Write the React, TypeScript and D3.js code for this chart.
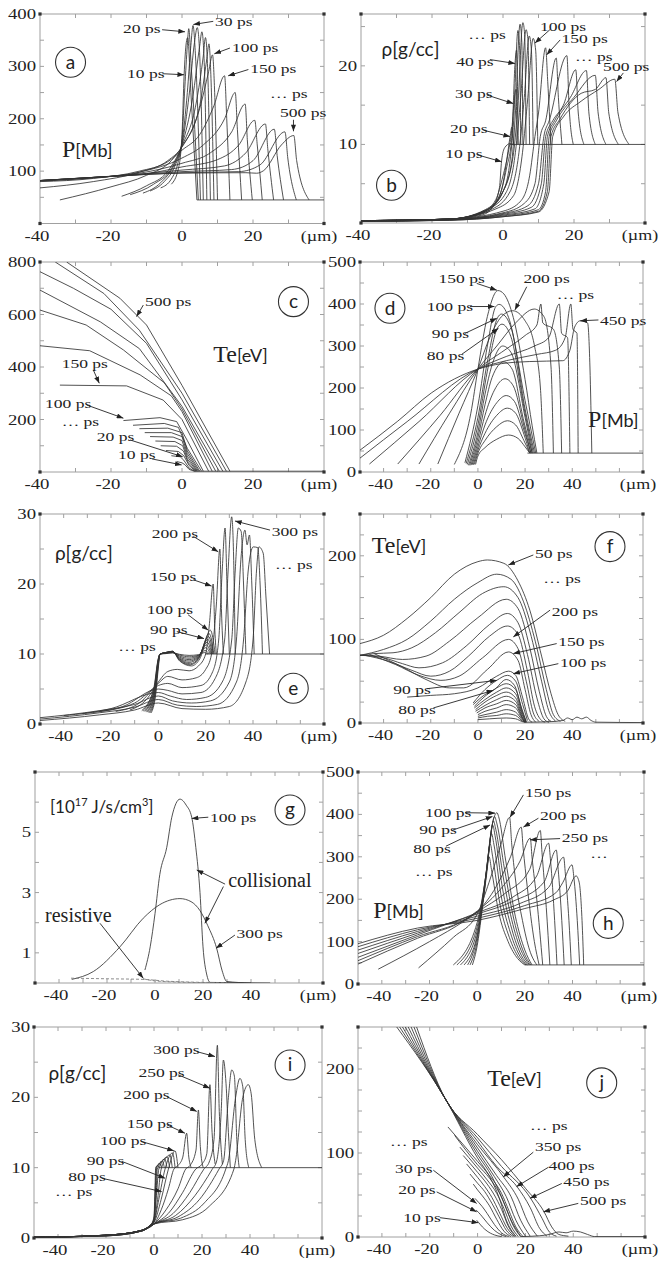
import React from "react";
import * as d3 from "d3";

type Pt = [number, number];
type Note = { t: string; x: number; y: number; ax?: number; ay?: number; bx?: number; by?: number; big?: boolean };

const SERIF = "'Liberation Serif', 'Times New Roman', serif";
const SANS = "Lato, 'Noto Sans', sans-serif";
const INK = "#222";
const FRAME = "#a0a0a0";

// ---------- (a) pressure, P[Mb]
const A_CURVES: Pt[][] = [
  [[-3, 75], [-1, 105], [0, 170], [0.6, 284], [1.2, 345], [1.6, 355], [2.5, 250], [4.2, 45]],
  [[-6, 68], [-3, 85], [-1, 120], [0, 160], [0.8, 260], [1.5, 340], [1.9, 372], [2.6, 300], [4.6, 45]],
  [[-9, 62], [-5, 80], [-2, 110], [0, 155], [1.5, 250], [2.5, 340], [3.1, 378], [3.8, 320], [5.2, 45]],
  [[-11, 58], [-6, 78], [-2, 115], [0, 152], [2, 245], [3.5, 345], [4.3, 374], [5, 320], [6, 45]],
  [[-14.6, 55], [-8, 75], [-3, 105], [0, 150], [3, 240], [5, 340], [5.6, 366], [6.3, 300], [7, 45]],
  [[-17, 52], [-10, 72], [-4, 100], [0, 148], [4, 230], [6, 320], [6.6, 355], [7.3, 280], [8, 45]],
  [[-34.4, 45], [-20, 70], [-10, 92], [-3, 120], [0, 147], [5, 225], [7, 315], [7.6, 343], [8.2, 270], [9, 45]],
  [[-40, 68], [-25, 80], [-12, 98], [-4, 120], [0, 146], [5, 220], [7.5, 290], [8.6, 322], [9.2, 250], [10, 45]],
  [[-40, 80], [-25, 86], [-12, 100], [-4, 118], [0, 140], [5, 170], [9, 225], [12, 282], [12.6, 200], [13.5, 45]],
  [[-40, 81], [-25, 87], [-12, 98], [0, 125], [6, 150], [12, 200], [15, 250], [15.6, 180], [16.8, 45]],
  [[-40, 82], [-25, 88], [-12, 96], [0, 115], [8, 135], [14, 175], [17.8, 228], [18.4, 160], [19.8, 45]],
  [[-40, 82], [-25, 88], [-10, 95], [0, 108], [10, 122], [16, 150], [20.5, 197], [21.2, 150], [22.6, 45]],
  [[-40, 82], [-20, 90], [0, 102], [12, 110], [18, 135], [23.5, 190], [24.2, 140], [25.8, 45]],
  [[-40, 82], [-20, 90], [0, 99], [14, 103], [20, 120], [26, 180], [26.8, 130], [28.6, 45]],
  [[-40, 82], [-20, 90], [0, 97], [16, 99], [22, 112], [29, 175], [29.8, 125], [32.2, 45]],
  [[-40, 82], [-20, 90], [0, 96], [18, 97], [21, 96], [23, 101], [28, 150], [31.5, 168], [32.3, 120], [35.8, 45]],
];
const A_BASE: Pt[] = [[4.2, 45], [40, 45]];
const A_NOTES: Note[] = [
  { t: "20 ps", x: -16.6, y: 364, ax: -5.6, ay: 370, bx: 0.85, by: 366 },
  { t: "30 ps", x: 9.3, y: 378, ax: 8.8, ay: 386, bx: 3.2, by: 380 },
  { t: "10 ps", x: -15.5, y: 278, ax: -5.5, ay: 286, bx: 0.6, by: 284 },
  { t: "100 ps", x: 14.1, y: 328, ax: 13.5, ay: 335, bx: 9.1, by: 324 },
  { t: "150 ps", x: 19.2, y: 288, ax: 18.7, ay: 294, bx: 13, by: 282 },
  { t: "… ps", x: 24.8, y: 240 },
  { t: "500 ps", x: 27.6, y: 204, ax: 31.4, ay: 198, bx: 31.4, by: 176 },
];

// ---------- (b) density
const B_CURVES: Pt[][] = [
  [[-40, 0.3], [-15, 0.5], [-6, 1], [-3, 2], [-1, 4.5], [-0.4, 7.9], [0.5, 9.6], [2, 10.1], [3, 10]],
  [[-40, 0.3], [-15, 0.5], [-6, 1.2], [-2, 2.5], [0, 5], [1.2, 8.5], [2, 11], [2.5, 12.2], [3, 10]],
  [[-40, 0.3], [-15, 0.5], [-6, 1.3], [-2, 3], [0, 6], [1.5, 9], [2.5, 12], [3.1, 15.3], [3.6, 17], [4, 10]],
  [[-40, 0.3], [-15, 0.5], [-5, 1.5], [-1, 3.5], [1, 7], [2.5, 11], [3.4, 20.4], [3.8, 22], [4.3, 10]],
  [[-40, 0.3], [-15, 0.5], [-5, 1.6], [0, 4], [2, 8], [3, 13], [4.2, 24.5], [4.7, 22], [5, 10]],
  [[-40, 0.3], [-15, 0.5], [-5, 1.7], [0, 4], [2.5, 8], [3.5, 14], [4.8, 25.3], [5.3, 23], [5.6, 10]],
  [[-40, 0.3], [-15, 0.5], [-4, 1.8], [0, 4], [3, 9], [4.2, 15], [5.6, 25.5], [6.1, 24], [6.5, 10]],
  [[-40, 0.3], [-15, 0.5], [-4, 1.8], [1, 4], [3.5, 9], [5, 16], [6.5, 24.6], [7, 23.5], [7.5, 10]],
  [[-40, 0.3], [-15, 0.5], [-3, 1.8], [2, 4], [4.5, 9], [6, 16], [7.4, 23.8], [8, 22], [8.5, 10]],
  [[-40, 0.3], [-15, 0.5], [-2, 1.8], [3, 3.5], [5.5, 9], [7, 16], [8.5, 23.5], [9.2, 22], [9.8, 10]],
  [[-40, 0.3], [-15, 0.5], [0, 1.5], [5, 2.8], [7.5, 6], [9, 11], [10, 14], [12, 22.3], [12.6, 18], [13.5, 10]],
  [[-40, 0.25], [-15, 0.45], [0, 1.3], [6, 2.5], [9, 5], [10.5, 11], [12, 13], [15, 21], [15.6, 16], [16.6, 10]],
  [[-40, 0.25], [-15, 0.45], [0, 1.2], [7, 2.2], [10, 5], [11.5, 11], [13, 13], [18, 21.3], [18.6, 15], [19.8, 10]],
  [[-40, 0.25], [-15, 0.4], [0, 1.1], [8, 2], [10.8, 5], [12, 11], [14, 13], [17, 15], [20.5, 19.5], [21.2, 14], [22.8, 10]],
  [[-40, 0.25], [-15, 0.4], [0, 1], [9, 1.8], [11.5, 5], [12.5, 11], [14.5, 13], [19, 16], [23.5, 19.4], [24.2, 14], [26, 10]],
  [[-40, 0.2], [-15, 0.4], [0, 0.9], [10, 1.7], [12, 4], [13, 11], [15, 13], [20, 16], [26, 18.8], [26.8, 14], [29, 10]],
  [[-40, 0.2], [-15, 0.35], [0, 0.8], [10, 1.5], [12.5, 4], [13.5, 11], [16, 13.2], [22, 16.5], [26, 17], [29, 18.5], [29.8, 14], [32.5, 10]],
  [[-40, 0.2], [-15, 0.35], [0, 0.8], [10, 1.4], [13, 4], [14, 11], [17, 13.5], [22, 15.5], [27, 17], [31.5, 18.3], [32.4, 14], [35.5, 10]],
];
const B_BASE: Pt[] = [[2, 10], [40, 10]];
const B_NOTES: Note[] = [
  { t: "100 ps", x: 10.4, y: 24.5, ax: 13.2, ay: 24.6, bx: 9, by: 22.9 },
  { t: "150 ps", x: 16.5, y: 22.9, ax: 16.1, ay: 23.3, bx: 12.3, by: 21.4 },
  { t: "… ps", x: -9.8, y: 23.4 },
  { t: "40 ps", x: -13.2, y: 20, ax: -3.7, ay: 20.8, bx: 3.4, by: 20.3 },
  { t: "30 ps", x: -13.5, y: 15.9, ax: -4.6, ay: 16.3, bx: 2.9, by: 15.2 },
  { t: "20 ps", x: -14.9, y: 11.5, ax: -5.5, ay: 11.8, bx: 2, by: 11 },
  { t: "10 ps", x: -16.3, y: 8.3, ax: -7.4, ay: 8.7, bx: -0.4, by: 7.8 },
  { t: "… ps", x: 20.3, y: 20.6 },
  { t: "500 ps", x: 28.2, y: 19.4, ax: 33.9, ay: 19.1, bx: 32, by: 18 },
];

// ---------- (c) electron temperature
const C_CURVES: Pt[][] = [
  [[-32.5, 800], [-17.5, 662], [-10, 560], [0, 330], [13.5, 3]],
  [[-35.7, 800], [-22, 680], [-12, 540], [0, 300], [12.5, 3]],
  [[-40, 763], [-30.6, 700], [-20, 620], [-10, 490], [0, 275], [11.5, 3]],
  [[-40, 693], [-23, 572], [-12, 470], [0, 250], [10.5, 3]],
  [[-40, 617], [-27, 560], [-16.5, 465], [-5, 340], [0, 240], [9.5, 3]],
  [[-40, 481], [-26, 462], [-11.8, 370], [-3, 290], [0, 230], [8.5, 3]],
  [[-34.4, 331], [-15.6, 328], [-5.3, 274], [0, 200], [7.5, 3]],
  [[-16.5, 196], [-6.2, 207], [-1.5, 192], [1.5, 120], [6, 3]],
  [[-13.8, 178], [-5, 185], [-1, 170], [1.5, 90], [5.5, 3]],
  [[-12, 165], [-4, 167], [0, 150], [1.5, 80], [5, 3]],
  [[-10.5, 150], [-3, 150], [0, 135], [1.5, 70], [4.7, 3]],
  [[-9, 135], [-2.5, 133], [0, 120], [1.5, 60], [4.4, 3]],
  [[-7.5, 118], [-2, 116], [0.2, 100], [1.5, 50], [4.2, 3]],
  [[-6, 100], [-1.5, 98], [0.4, 80], [1.8, 35], [4, 3]],
  [[-4.5, 82], [-1, 78], [0.5, 62], [2, 25], [3.8, 3]],
  [[-3, 62], [-0.5, 58], [0.5, 45], [2, 15], [3.6, 3]],
  [[-1.5, 40], [0, 35], [0.8, 28], [2, 10], [3.4, 3]],
];
const C_BASE: Pt[] = [[3.4, 3], [40, 3]];
const C_NOTES: Note[] = [
  { t: "500 ps", x: -10.4, y: 632, ax: -10.9, ay: 636, bx: -12.8, by: 592 },
  { t: "150 ps", x: -33.9, y: 396, ax: -25, ay: 389, bx: -23.3, by: 338 },
  { t: "100 ps", x: -38.6, y: 244, ax: -26.8, ay: 255, bx: -16.5, by: 205 },
  { t: "… ps", x: -33.9, y: 175 },
  { t: "20 ps", x: -24, y: 118, ax: -14.6, ay: 122, bx: 0.2, by: 58 },
  { t: "10 ps", x: -18, y: 50, ax: -8.5, ay: 50, bx: -0.1, by: 27 },
];

// ---------- (d) pressure, long pulse
const D_CURVES: Pt[][] = [
  [[-1, 18], [0, 38], [3, 58], [8, 78], [13, 88], [17, 80], [20, 60], [22, 45]],
  [[-1.5, 18], [0, 45], [3, 75], [8, 108], [12.5, 122], [16, 112], [19.5, 75], [22, 45]],
  [[-2, 17], [0, 52], [3, 92], [8, 135], [12.5, 152], [16, 140], [19.5, 90], [22, 45]],
  [[-2.5, 17], [0, 60], [3, 112], [8, 165], [12, 182], [15.5, 168], [19.5, 100], [22.5, 45]],
  [[-3, 16], [0, 70], [3, 135], [7, 195], [11.5, 222], [15, 205], [19.5, 110], [22.5, 45]],
  [[-3.5, 16], [0, 82], [3, 160], [6, 225], [11, 262], [14.5, 245], [19.5, 120], [23, 45]],
  [[-4, 16], [0, 95], [3, 185], [6, 255], [10.5, 300], [14, 285], [20, 130], [23, 45]],
  [[-4.5, 18], [0, 112], [4, 240], [8.3, 343], [10.2, 352], [14, 322], [20, 140], [23.5, 45]],
  [[-5, 20], [0, 130], [4, 262], [8.3, 367], [10, 376], [14, 345], [20, 150], [24, 45]],
  [[-5.5, 22], [0, 158], [4, 300], [7.6, 394], [9, 399], [13, 368], [20, 170], [24.5, 45]],
  [[-10, 18], [-3, 140], [0, 245], [4, 370], [8.5, 432], [11, 424], [15, 368], [20, 220], [23, 110], [25, 45]],
  [[-17, 19], [-8, 140], [0, 245], [5, 320], [10, 370], [14.7, 384], [20, 360], [24, 300], [26.5, 200], [27.7, 45]],
  [[-25, 19], [-12, 140], [0, 245], [8, 300], [16, 355], [23.9, 388], [28, 370], [31, 250], [32, 45]],
  [[-34, 19], [-16, 135], [0, 245], [10, 285], [20, 325], [25, 350], [26.7, 400], [27.5, 355], [32, 340], [34.5, 250], [35.5, 45]],
  [[-46, 19], [-25, 120], [0, 245], [12, 275], [24, 300], [30, 320], [34.5, 400], [35.5, 330], [38, 320], [39, 45]],
  [[-50, 33], [-30, 120], [0, 245], [12, 265], [25, 280], [33, 290], [37, 320], [39.4, 400], [40.3, 340], [42, 330], [42.5, 45]],
  [[-50, 52], [-34, 121], [-19.8, 188], [0, 245], [10, 258], [22, 263], [36, 265], [39, 290], [41, 345], [43.4, 360], [46.5, 355], [47.5, 250], [48.3, 45]],
];
const D_BASE: Pt[] = [[21, 45], [70, 45]];
const D_NOTES: Note[] = [
  { t: "150 ps", x: -16.7, y: 450, ax: -0.5, ay: 449, bx: 8, by: 433 },
  { t: "200 ps", x: 19.3, y: 450, ax: 20.7, ay: 441, bx: 15.7, by: 386 },
  { t: "100 ps", x: -21.7, y: 383, ax: -3.4, ay: 394, bx: 7, by: 394 },
  { t: "90 ps", x: -19.6, y: 319, ax: -5.5, ay: 330, bx: 8, by: 366 },
  { t: "80 ps", x: -21.7, y: 267, ax: -6.9, ay: 280, bx: 8.7, by: 342 },
  { t: "… ps", x: 33.4, y: 412 },
  { t: "450 ps", x: 51.8, y: 350, ax: 51.1, ay: 362, bx: 43.4, by: 360 },
];

// ---------- (e) density, long pulse
const E_CURVES: Pt[][] = [
  [[-3, 1.6], [-1.2, 4], [0, 8], [0.7, 10], [3, 10.05], [6, 10.15], [9, 9.95], [13, 9.8], [17, 9.9], [19.5, 10.2], [21, 10]],
  [[-3.5, 1.6], [-1.3, 4.2], [0, 8.4], [0.7, 10], [3, 10.1], [6, 10.2], [9, 9.85], [13, 9.6], [17, 9.85], [19.8, 10.5], [21.5, 10]],
  [[-4, 1.6], [-1.4, 4.4], [0, 8.6], [0.7, 10], [3, 10.1], [6, 10.25], [9, 9.7], [13, 9.4], [17, 9.8], [20, 10.9], [22, 10]],
  [[-4.5, 1.7], [-1.5, 4.5], [0, 8.8], [0.7, 10], [3, 10.15], [6, 10.3], [9, 9.55], [13, 9.2], [17, 9.7], [20.3, 11.3], [22.3, 10]],
  [[-5, 1.7], [-1.6, 4.6], [0, 9], [0.7, 10], [3, 10.15], [6, 10.3], [9, 9.4], [13, 9], [17, 9.6], [20.6, 11.7], [22.6, 10]],
  [[-5.5, 1.8], [-1.7, 4.7], [0, 9.1], [0.7, 10], [3, 10.2], [6, 10.35], [9, 9.3], [13, 8.8], [17, 9.5], [20.9, 12.1], [22.9, 10]],
  [[-6, 1.8], [-1.8, 4.8], [0, 9.2], [0.7, 10], [3, 10.2], [6, 10.35], [9, 9.2], [13.5, 8.6], [17, 9.4], [21.2, 12.5], [23.2, 10]],
  [[-6.5, 1.9], [-1.9, 4.9], [0, 9.3], [0.7, 10], [3, 10.2], [6, 10.4], [9, 9.1], [13.5, 8.45], [17, 9.3], [21.5, 12.9], [23.5, 10]],
  [[-7, 1.9], [-2, 5], [0, 9.4], [0.7, 10], [3, 10.2], [6, 10.4], [9, 9], [14, 8.3], [17.5, 9.3], [22, 13.4], [24, 10]],
  [[-12, 2], [-5, 3.5], [0, 6], [4, 7.5], [8, 7.8], [13, 7.6], [17, 8.3], [20, 10], [21.5, 14], [23.2, 20], [23.8, 14], [24.5, 10]],
  [[-18, 1.8], [-8, 3], [0, 5.8], [4, 6.8], [10, 6.3], [16, 6.6], [20, 7.8], [22.5, 10], [24.5, 17], [26, 25], [26.7, 16], [27.5, 10]],
  [[-25, 1.8], [-10, 3], [0, 5.5], [4, 5.8], [10, 5.2], [18, 5.5], [23, 7.5], [25.5, 12], [27, 22], [28.2, 28], [29, 20], [30, 10]],
  [[-32, 1.5], [-15, 2.5], [0, 5], [4, 4.8], [10, 4.3], [18, 4.5], [24, 6.5], [28, 12], [29.5, 22], [31, 29.6], [31.8, 24], [32.5, 10]],
  [[-40, 1.2], [-20, 2.2], [0, 4.5], [5, 4], [12, 3.5], [20, 3.8], [27, 6], [31, 12], [32.5, 22], [33.8, 28], [35, 27.5], [36, 20], [37, 10]],
  [[-50, 0.9], [-25, 1.9], [-10, 2.8], [0, 4], [6, 3.3], [14, 3], [22, 3.3], [30, 6], [33, 12], [35, 24], [36.6, 27.7], [37.5, 25.6], [38.5, 27], [39.5, 20], [40.5, 10]],
  [[-50, 0.7], [-25, 1.6], [-10, 2.4], [0, 3.5], [8, 2.7], [16, 2.5], [25, 2.8], [33, 6], [36, 12], [38, 22], [40.1, 25.3], [42, 25.2], [43, 20], [44, 10]],
  [[-50, 0.5], [-25, 1.3], [-10, 2], [0, 3], [10, 2.2], [20, 2.1], [30, 2.5], [37, 6], [40, 12], [41.5, 22], [42.5, 25.3], [44.3, 24.4], [45.5, 18], [47, 10]],
];
const E_BASE: Pt[] = [[20, 10], [70, 10]];
const E_NOTES: Note[] = [
  { t: "200 ps", x: -2.8, y: 26.6, ax: 14.8, ay: 26.8, bx: 25.3, by: 24.6 },
  { t: "300 ps", x: 47.9, y: 26.9, ax: 47.2, ay: 27.7, bx: 32.4, by: 29 },
  { t: "150 ps", x: -3.5, y: 20.4, ax: 14.8, ay: 20.6, bx: 22.5, by: 19.7 },
  { t: "100 ps", x: -4.9, y: 15.7, ax: 12.6, ay: 15.6, bx: 21.1, by: 13.4 },
  { t: "90 ps", x: -3.5, y: 12.9, ax: 7.8, ay: 13.2, bx: 19.3, by: 12.2 },
  { t: "… ps", x: -16.9, y: 10.4 },
  { t: "… ps", x: 49.3, y: 22.1 },
];

// ---------- (f) electron temperature, long pulse
const F_CURVES: Pt[][] = [
  [[-50, 95], [-40, 105], [-30, 125], [-20, 150], [-10, 178], [0, 193], [4, 195], [11, 191], [17, 170], [22, 135], [27, 80], [31, 35], [34, 10], [37, 2]],
  [[-50, 81], [-40, 88], [-30, 100], [-20, 122], [-10, 148], [0, 168], [8, 178], [14, 172], [20, 140], [25, 90], [29, 40], [32, 10], [35, 2]],
  [[-50, 81], [-44, 83], [-36, 84], [-28, 90], [-18, 108], [-8, 132], [2, 155], [11, 163], [17, 150], [22, 110], [27, 50], [30, 15], [33, 2]],
  [[-50, 81], [-42, 80], [-32, 76], [-22, 80], [-12, 98], [0, 126], [12, 148], [17, 137], [22, 90], [26, 38], [29, 8], [31, 2]],
  [[-50, 81], [-40, 78], [-32, 71], [-25, 66], [-15, 72], [-5, 92], [5, 118], [12.5, 131], [17, 120], [21, 82], [25, 30], [28, 5], [30, 1]],
  [[-48, 81], [-38, 74], [-28, 63], [-20, 56], [-12, 62], [-4, 80], [5, 104], [12.5, 116], [17, 106], [21, 62], [24, 20], [27, 3], [28.5, 1]],
  [[-46, 82], [-35, 70], [-25, 57], [-15.7, 51], [-8, 56], [2, 78], [13, 100], [17, 89], [20.5, 50], [23.5, 12], [26, 2]],
  [[-44, 83], [-32, 67], [-22, 52], [-12, 42], [-6, 42], [4, 64], [13, 85], [17, 75], [20, 40], [22.5, 10], [24.5, 1]],
  [[-30, 31], [-20, 33], [-10, 35], [0, 42], [8, 56], [13, 62], [16, 57], [19, 30], [21.5, 5], [23, 1]],
  [[-2, 24], [3, 40], [8, 51], [12.5, 57], [16, 50], [19, 22], [21, 3]],
  [[-2, 22], [3, 34], [7, 40], [12, 52], [15.5, 45], [18.5, 18], [20.5, 2]],
  [[-1.5, 20], [3, 32], [8, 42], [12, 47], [16, 40], [19, 12], [20.5, 1]],
  [[-1.5, 18], [3, 28], [8, 37], [12, 42], [16, 35], [19, 10], [20.5, 1]],
  [[-1, 16], [3, 25], [8, 33], [12, 37], [16, 30], [19, 8], [20.3, 1]],
  [[-1, 14], [3, 21], [8, 28], [12, 32], [16, 26], [19, 6], [20.2, 1]],
  [[-0.5, 12], [3, 18], [8, 23], [12, 27], [16, 22], [19, 5], [20, 1]],
  [[0, 10], [3, 14], [8, 18], [12, 22], [16, 18], [19, 4], [20, 1]],
  [[0, 8], [3, 10], [8, 13], [12, 16], [16, 13], [19, 3], [20, 1]],
  [[0, 6], [4, 8], [8, 9], [12, 11], [16, 9], [19, 2], [20, 1]],
  [[0, 4], [5, 5], [12, 6], [16, 5], [19, 1.5], [20, 1]],
];
const F_BASE: Pt[] = [[20, 1], [30, 1.5], [36, 3], [38, 6], [40, 4], [42, 7], [44, 5], [46, 7], [48, 3], [50, 1], [70, 0.5]];
const F_NOTES: Note[] = [
  { t: "50 ps", x: 24.2, y: 197, ax: 23.5, ay: 201, bx: 12.9, by: 189 },
  { t: "… ps", x: 27.7, y: 167 },
  { t: "200 ps", x: 31.3, y: 128, ax: 30.6, ay: 135, bx: 15, by: 103 },
  { t: "150 ps", x: 34.1, y: 92, ax: 33.4, ay: 95, bx: 15, by: 83 },
  { t: "100 ps", x: 34.8, y: 67, ax: 34.1, ay: 71, bx: 15, by: 59 },
  { t: "90 ps", x: -35.9, y: 35, ax: -21.7, ay: 41, bx: 8, by: 51 },
  { t: "80 ps", x: -33.8, y: 11, ax: -18.9, ay: 18, bx: 6.5, by: 39 },
];

// ---------- (g) heating rate
const G_CURVES: Pt[][] = [
  [[-4.2, 0.43], [-2, 1.2], [0, 2.3], [2, 3.6], [4.9, 4.5], [7, 5.5], [10.4, 6.1], [13, 5.9], [15.3, 5.5], [17, 4.5], [18.75, 3], [20, 1.2], [21.5, 0.3], [23, 0.02], [48, 0]],
  [[-34.7, 0.12], [-25.7, 0.38], [-14.6, 1.2], [-4.9, 2.15], [2, 2.6], [10.4, 2.8], [15, 2.7], [18.75, 2.4], [22, 1.9], [25.7, 1.15], [28, 0.4], [29.9, 0.05], [40, 0]],
];
const G_DASHED: Pt[][] = [
  [[-35, 0.16], [-20, 0.14], [-5, 0.12], [5, 0.06], [15, 0.03], [30, 0.01]],
  [[-5, 0.14], [0, 0.07], [10, 0.03], [25, 0.01]],
];
const G_NOTES: Note[] = [
  { t: "100 ps", x: 22.9, y: 5.34, ax: 22.2, ay: 5.5, bx: 15.3, by: 5.46 },
  { t: "collisional", x: 30.5, y: 3.18, ax: 29.2, ay: 3.28, bx: 17.4, by: 3.75, big: true },
  { t: "", x: 30.5, y: 3.18, ax: 28.5, ay: 3.2, bx: 20.8, by: 1.98 },
  { t: "300 ps", x: 34, y: 1.49, ax: 33.3, ay: 1.59, bx: 25.4, by: 1.15 },
  { t: "resistive", x: -45.8, y: 2.02, ax: -22.9, ay: 1.98, bx: -4.9, by: 0.16, big: true },
];

// ---------- (h) pressure, second case
const H_CURVES: Pt[][] = [
  [[-2, 45], [0, 90], [2, 170], [4, 260], [5, 300], [6, 270], [9, 170], [13, 100], [17, 60], [20, 45]],
  [[-3, 45], [0, 100], [2, 180], [4, 270], [5.5, 330], [6.5, 300], [9.5, 190], [13.5, 110], [17.5, 62], [20.5, 45]],
  [[-4, 45], [0, 110], [2.5, 200], [4.5, 290], [6, 355], [7, 330], [10, 210], [14, 120], [18, 65], [21, 45]],
  [[-5.5, 45], [0, 115], [3, 220], [5, 320], [6.5, 375], [7.5, 350], [10.5, 230], [14.5, 130], [18.5, 68], [21.5, 45]],
  [[-7, 45], [0, 125], [3, 230], [5.5, 340], [6.8, 385], [7.8, 365], [11, 250], [15, 140], [19, 72], [22, 45]],
  [[-8.5, 45], [0, 135], [3.5, 250], [6, 365], [7.3, 395], [8.2, 380], [11.5, 270], [15.5, 150], [19.5, 75], [22.5, 45]],
  [[-10, 45], [0, 145], [4, 270], [6.5, 380], [8.3, 404], [9, 395], [12, 290], [16, 160], [20, 80], [23, 45]],
  [[-24.6, 38], [-10, 110], [0, 165], [5, 240], [10, 330], [13.6, 393], [14.5, 330], [16, 250], [19, 150], [22, 80], [25, 45]],
  [[-41.5, 35], [-20, 100], [-5, 150], [0, 170], [8, 230], [14, 300], [18.5, 370], [19.3, 320], [21, 230], [24, 100], [26, 45]],
  [[-50, 47], [-25, 108], [-5, 152], [0, 172], [10, 225], [18, 290], [22.3, 344], [23, 300], [25, 200], [27.5, 45]],
  [[-50, 55], [-25, 112], [-5, 152], [0, 170], [12, 215], [22, 270], [26.5, 362], [27.2, 310], [29, 180], [30.5, 45]],
  [[-50, 63], [-25, 116], [0, 168], [15, 205], [25, 255], [30, 332], [30.8, 290], [32.5, 150], [33.5, 45]],
  [[-50, 72], [-25, 120], [0, 165], [15, 195], [28, 240], [33.2, 316], [34, 270], [35.5, 150], [36.5, 45]],
  [[-50, 80], [-25, 124], [0, 160], [18, 190], [30, 228], [36.3, 299], [37, 260], [38.5, 150], [39.5, 45]],
  [[-50, 88], [-25, 128], [0, 155], [20, 185], [33, 215], [36, 240], [39.8, 281], [40.6, 250], [42, 150], [43, 45]],
  [[-50, 95], [-25, 132], [0, 150], [20, 178], [32, 198], [38, 220], [41.5, 255], [42.8, 240], [44, 150], [44.7, 45]],
];
const H_BASE: Pt[] = [[20, 45], [70, 45]];
const H_NOTES: Note[] = [
  { t: "150 ps", x: 20.1, y: 441, ax: 19.4, ay: 446, bx: 13.8, by: 393 },
  { t: "100 ps", x: -21.9, y: 394, ax: -5.1, ay: 404, bx: 7.5, by: 403 },
  { t: "90 ps", x: -24.3, y: 354, ax: -10.3, ay: 363, bx: 6.4, by: 395 },
  { t: "80 ps", x: -26.8, y: 309, ax: -13.1, ay: 325, bx: 5.4, by: 375 },
  { t: "… ps", x: -26.1, y: 255 },
  { t: "200 ps", x: 26.4, y: 387, ax: 25.7, ay: 391, bx: 19.4, by: 370 },
  { t: "250 ps", x: 35.5, y: 335, ax: 34.8, ay: 343, bx: 22.2, by: 340 },
  { t: "…", x: 47.4, y: 297 },
];

// ---------- (i) density, second case
const I_CURVES: Pt[][] = [
  [[-50, 0.1], [-20, 0.4], [-6, 1], [-1.5, 1.8], [0, 3], [0.4, 7], [0.7, 10], [1.5, 10.3], [2.2, 10]],
  [[-50, 0.1], [-20, 0.4], [-6, 1], [-1.5, 1.8], [0, 2.8], [0.5, 6.5], [0.9, 10], [2.5, 10.6], [3.2, 10]],
  [[-50, 0.1], [-20, 0.4], [-6, 1], [-1.5, 1.8], [0, 2.7], [0.6, 6], [1.1, 10], [3.5, 10.9], [4.3, 10]],
  [[-50, 0.1], [-20, 0.4], [-6, 1], [-1.5, 1.8], [0, 2.6], [0.8, 5.8], [1.4, 9.8], [4.5, 11.2], [5.4, 10]],
  [[-50, 0.1], [-20, 0.4], [-6, 1], [-1.5, 1.8], [0, 2.5], [1, 6], [2, 9.8], [5.5, 11.5], [6.5, 10]],
  [[-50, 0.1], [-20, 0.4], [-6, 1], [-1.5, 1.8], [0, 2.4], [1.5, 5.5], [3, 9.8], [6.6, 11.8], [7.6, 10]],
  [[-50, 0.1], [-20, 0.4], [-6, 1], [-1.5, 1.8], [0, 2.3], [2, 5.5], [4.6, 9.8], [7.7, 12.1], [8.8, 10]],
  [[-50, 0.1], [-20, 0.4], [-6, 1], [-1.5, 1.8], [0, 2.2], [3, 5.5], [6, 9.8], [8.75, 12.4], [10, 10]],
  [[-50, 0.1], [-20, 0.4], [-5, 1.1], [0, 2], [3, 4], [6, 7], [8.3, 9.8], [10, 10.3], [12, 11.5], [13.6, 14.9], [14.5, 11.5], [15.5, 10]],
  [[-50, 0.1], [-20, 0.4], [-5, 1.1], [0, 2], [5, 4], [10, 7], [13.2, 9.8], [15, 10.3], [17.5, 12.5], [18.5, 18.2], [19.3, 13], [20.5, 10]],
  [[-50, 0.1], [-20, 0.35], [-5, 1.1], [0, 2], [6, 3.5], [12, 6.5], [17.4, 9.8], [20, 10.5], [22, 12], [23.3, 21.8], [24.2, 15], [25.5, 10.5]],
  [[-50, 0.1], [-20, 0.35], [-5, 1], [0, 2], [8, 3.5], [15, 6.5], [20.8, 9.8], [23, 10.8], [25, 14], [26.4, 27.4], [27.2, 18], [28.5, 10.5]],
  [[-50, 0.1], [-20, 0.3], [-5, 1], [0, 2], [9, 3.2], [17, 6], [24.3, 9.8], [26, 10.8], [28, 18], [28.9, 25.3], [30, 22], [31, 15], [31.8, 10]],
  [[-50, 0.1], [-20, 0.3], [-5, 1], [0, 2], [10, 3], [19, 5.5], [27.1, 9.8], [29, 11], [31, 20], [32.4, 23.9], [33.5, 23], [34.5, 14], [35.5, 10]],
  [[-50, 0.1], [-20, 0.3], [-5, 1], [0, 2], [11, 2.8], [21, 5], [29.9, 9.8], [31, 11], [34, 20], [35.8, 22.7], [37, 21.5], [38, 14], [39.5, 10]],
  [[-50, 0.1], [-20, 0.3], [-5, 1], [0, 2], [12, 2.6], [23, 4.5], [33.3, 9.8], [34, 11], [37, 20], [39.3, 21.8], [40.5, 20.5], [42, 14], [44.9, 10]],
];
const I_BASE: Pt[] = [[2, 10], [70, 10]];
const I_NOTES: Note[] = [
  { t: "300 ps", x: -0.3, y: 26.2, ax: 17.8, ay: 26.5, bx: 25.4, by: 25.8 },
  { t: "250 ps", x: -6.5, y: 22.9, ax: 10.1, ay: 23.2, bx: 23.3, by: 21.3 },
  { t: "200 ps", x: -12.8, y: 19.8, ax: 5.3, ay: 20.1, bx: 17.8, by: 18 },
  { t: "150 ps", x: -11.4, y: 15.6, ax: 5.3, ay: 16.1, bx: 12.9, by: 14.9 },
  { t: "100 ps", x: -22.5, y: 13.2, ax: -5.1, ay: 13.7, bx: 8.3, by: 12.4 },
  { t: "90 ps", x: -28, y: 10.4, ax: -13.5, ay: 10.9, bx: 4.6, by: 8.5 },
  { t: "80 ps", x: -35.7, y: 8.1, ax: -21.8, ay: 8.5, bx: 3.2, by: 6.6 },
  { t: "… ps", x: -41.3, y: 6 },
];

// ---------- (j) electron temperature, second case
const J_CURVES: Pt[][] = [
  [[-25.5, 250], [-13.4, 164], [0, 122], [10, 92], [20, 58], [27.8, 30], [31, 12], [34, 3], [38, 1]],
  [[-26.6, 250], [-13.4, 164], [0, 118], [10, 84], [22.2, 46], [27, 22], [30, 6], [33, 1]],
  [[-27.8, 250], [-13.4, 164], [0, 114], [8, 84], [16.6, 59.5], [22, 35], [26, 10], [29, 1]],
  [[-29, 250], [-13.4, 164], [0, 110], [11, 71], [17, 45], [21, 18], [25, 1]],
  [[-30.2, 250], [-13.4, 164], [0, 106], [8, 73], [14, 48], [18, 20], [22, 1]],
  [[-31.4, 250], [-13.4, 164], [0, 102], [7, 72], [12, 48], [16, 20], [20, 1]],
  [[-32.6, 250], [-13.4, 164], [0, 98], [6, 72], [10, 48], [14, 20], [18, 1]],
  [[-33.8, 250], [-13.4, 164], [0, 94], [5, 72], [9, 47], [12, 20], [16, 1]],
  [[-0.4, 20], [0.5, 17], [2, 12], [4, 7], [7, 2.5], [10, 0.5]],
  [[-0.6, 32], [0.5, 29], [2, 24], [4, 17], [7, 8], [10, 2.5], [12, 0.5]],
  [[-1.1, 46], [0.5, 41], [2, 36], [4, 28], [7, 15], [10, 5], [13, 0.5]],
  [[-1.8, 63], [0, 56], [2, 49], [5, 37], [8, 21], [11, 7], [14, 0.5]],
  [[-3.2, 75], [0, 64], [3, 54], [6, 40], [9, 24], [12, 8], [15, 0.5]],
  [[-4.6, 87], [0, 71], [3, 60], [6, 47], [9, 30], [12.5, 10], [15.5, 0.5]],
  [[-6, 97], [0, 77], [4, 63], [7, 50], [10, 33], [13, 12], [16, 0.5]],
  [[-7.4, 107], [0, 82], [4, 68], [8, 52], [11, 34], [14, 13], [17, 0.5]],
  [[-9.6, 121], [0, 86], [5, 70], [9, 53], [12, 34], [15, 13], [18, 0.5]],
  [[-12.4, 131], [0, 90], [5, 73], [10, 52], [13, 32], [16, 12], [19, 0.5]],
];
const J_BASE: Pt[] = [[18, 0.5], [26, 1.5], [30, 3], [34, 6], [37, 5], [40, 7], [43, 6], [46, 3], [49, 0.5], [70, 0.5]];
const J_NOTES: Note[] = [
  { t: "… ps", x: 21.9, y: 127 },
  { t: "350 ps", x: 24, y: 102, ax: 23.3, ay: 101, bx: 10.7, by: 71.5 },
  { t: "400 ps", x: 29.6, y: 79.5, ax: 29.6, ay: 83, bx: 16.3, by: 60 },
  { t: "450 ps", x: 35.8, y: 60.5, ax: 35.2, ay: 63.7, bx: 21.9, by: 46 },
  { t: "500 ps", x: 42.8, y: 38, ax: 42.1, ay: 40, bx: 27.5, by: 30 },
  { t: "… ps", x: -36.6, y: 108 },
  { t: "30 ps", x: -34.5, y: 76, ax: -18.5, ay: 79.5, bx: -0.4, by: 40 },
  { t: "20 ps", x: -33.2, y: 51, ax: -17.1, ay: 53.7, bx: -0.4, by: 30 },
  { t: "10 ps", x: -31.1, y: 18, ax: -15.7, ay: 23, bx: 0.3, by: 17 },
];

type PanelCfg = {
  id: string;
  box: [number, number, number, number];
  xd: [number, number];
  yd: [number, number];
  xStep: number;
  yStep: number;
  xLabels: number[];
  yLabels: number[];
  curves: Pt[][];
  base?: Pt[];
  dashed?: Pt[][];
  linear?: boolean;
  notes: Note[];
  title: { kind: string; x: number; y: number };
  circle: Pt;
};

const PANELS: PanelCfg[] = [
  { id: "a", box: [40, 324, 14, 223.5], xd: [-40, 40], yd: [0, 400], xStep: 10, yStep: 50, xLabels: [-40, -20, 0, 20], yLabels: [100, 200, 300, 400], curves: A_CURVES, base: A_BASE, notes: A_NOTES, title: { kind: "P", x: -33.8, y: 127 }, circle: [-31.4, 308] },
  { id: "b", box: [361, 645, 14, 223], xd: [-40, 40], yd: [0, 26.6], xStep: 10, yStep: 5, xLabels: [-40, -20, 0, 20], yLabels: [10, 20], curves: B_CURVES, base: B_BASE, notes: B_NOTES, title: { kind: "rho", x: -34.2, y: 21.3 }, circle: [-31.4, 4.8] },
  { id: "c", box: [40, 324, 262, 472], xd: [-40, 40], yd: [0, 800], xStep: 10, yStep: 100, xLabels: [-40, -20, 0, 20], yLabels: [200, 400, 600, 800], curves: C_CURVES, base: C_BASE, linear: true, notes: C_NOTES, title: { kind: "Te", x: 8.8, y: 419 }, circle: [31.4, 649] },
  { id: "d", box: [360, 643, 262, 472], xd: [-50, 70], yd: [0, 500], xStep: 10, yStep: 50, xLabels: [-40, -20, 0, 20, 40], yLabels: [0, 100, 200, 300, 400, 500], curves: D_CURVES, base: D_BASE, notes: D_NOTES, title: { kind: "P", x: 46.7, y: 107 }, circle: [-37.3, 390] },
  { id: "e", box: [40, 324, 514, 724], xd: [-50, 70], yd: [0, 30], xStep: 10, yStep: 5, xLabels: [-40, -20, 0, 20, 40], yLabels: [0, 10, 20, 30], curves: E_CURVES, base: E_BASE, notes: E_NOTES, title: { kind: "rho", x: -43.7, y: 23.4 }, circle: [57, 5.1] },
  { id: "f", box: [360, 643, 514, 723], xd: [-50, 70], yd: [0, 250], xStep: 10, yStep: 25, xLabels: [-40, -20, 0, 20, 40], yLabels: [0, 100, 200], curves: F_CURVES, base: F_BASE, notes: F_NOTES, title: { kind: "Te", x: -45, y: 203 }, circle: [56, 211] },
  { id: "g", box: [35, 323, 772, 983], xd: [-50, 70], yd: [0, 7], xStep: 10, yStep: 1, xLabels: [-40, -20, 0, 20, 40], yLabels: [1, 3, 5], curves: G_CURVES, dashed: G_DASHED, notes: G_NOTES, title: { kind: "g", x: -43.8, y: 5.64 }, circle: [56.25, 5.74] },
  { id: "h", box: [358, 644, 772, 984], xd: [-50, 70], yd: [0, 500], xStep: 10, yStep: 50, xLabels: [-40, -20, 0, 20, 40], yLabels: [0, 100, 200, 300, 400, 500], curves: H_CURVES, base: H_BASE, notes: H_NOTES, title: { kind: "P", x: -43.6, y: 156 }, circle: [55, 143] },
  { id: "i", box: [34, 322, 1027, 1238], xd: [-50, 70], yd: [0, 30], xStep: 10, yStep: 5, xLabels: [-40, -20, 0, 20, 40], yLabels: [0, 10, 20, 30], curves: I_CURVES, base: I_BASE, notes: I_NOTES, title: { kind: "rho", x: -44, y: 22.5 }, circle: [56.7, 24.6] },
  { id: "j", box: [358, 645, 1027, 1237], xd: [-50, 70], yd: [0, 250], xStep: 10, yStep: 25, xLabels: [-40, -20, 0, 20, 40], yLabels: [0, 100, 200], curves: J_CURVES, base: J_BASE, notes: J_NOTES, title: { kind: "Te", x: 4, y: 180 }, circle: [51.9, 183.5] },
];

function SText({ x, y, children, anchor = "start", size = 13.5, sx = 1.3 }: any) {
  return (
    <text transform={`translate(${x},${y}) scale(${sx},1)`} textAnchor={anchor} fontFamily={SERIF} fontSize={size} fill={INK}>
      {children}
    </text>
  );
}

function Title({ kind, px, py }: { kind: string; px: number; py: number }) {
  if (kind === "P")
    return (
      <text x={px} y={py} fill={INK}>
        <tspan fontFamily={SERIF} fontSize={24}>P</tspan>
        <tspan fontFamily={SANS} fontSize={18}>[Mb]</tspan>
      </text>
    );
  if (kind === "Te")
    return (
      <text x={px} y={py} fill={INK}>
        <tspan fontFamily={SERIF} fontSize={24}>Te</tspan>
        <tspan fontFamily={SANS} fontSize={18}>[eV]</tspan>
      </text>
    );
  if (kind === "rho")
    return (
      <text x={px} y={py} fill={INK} fontFamily={SANS} fontSize={19}>
        ρ[g/cc]
      </text>
    );
  return (
    <text x={px} y={py} fill={INK} fontFamily={SANS} fontSize={17}>
      [10
      <tspan dy={-7} fontSize={11}>17</tspan>
      <tspan dy={7}> J/s/cm</tspan>
      <tspan dy={-7} fontSize={11}>3</tspan>
      <tspan dy={7}>]</tspan>
    </text>
  );
}

function Panel({ c }: { c: PanelCfg }) {
  const [l, r, t, b] = c.box;
  const x = d3.scaleLinear().domain(c.xd).range([l, r]);
  const y = d3.scaleLinear().domain(c.yd).range([b, t]);
  const line = d3
    .line<Pt>()
    .x((d) => x(d[0]))
    .y((d) => y(d[1]))
    .curve(c.linear ? d3.curveLinear : d3.curveMonotoneX);
  const xt = d3.range(c.xd[0] + c.xStep, c.xd[1] - 1e-6, c.xStep);
  const yt = d3.range(c.yd[0] + c.yStep, c.yd[1] - 1e-6, c.yStep);
  const tk = 4;
  const clip = `clip-${c.id}`;

  return (
    <g>
      <defs>
        <clipPath id={clip}>
          <rect x={l} y={t} width={r - l} height={b - t} />
        </clipPath>
      </defs>
      <rect x={l} y={t} width={r - l} height={b - t} fill="none" stroke={FRAME} strokeWidth={1} />
      {xt.map((v) => (
        <g key={"xt" + v} stroke={FRAME} strokeWidth={1}>
          <line x1={x(v)} x2={x(v)} y1={b} y2={b - tk} />
          <line x1={x(v)} x2={x(v)} y1={t} y2={t + tk} />
        </g>
      ))}
      {yt.map((v) => (
        <g key={"yt" + v} stroke={FRAME} strokeWidth={1}>
          <line x1={l} x2={l + tk} y1={y(v)} y2={y(v)} />
          <line x1={r} x2={r - tk} y1={y(v)} y2={y(v)} />
        </g>
      ))}
      {[
        [l, t],
        [r, t],
        [l, b],
        [r, b],
      ].map(([cx, cy], i) => (
        <rect key={"cn" + i} x={cx - 1.6} y={cy - 1.6} width={3.2} height={3.2} fill="#333" />
      ))}
      {c.xLabels.map((v) => (
        <SText key={"xl" + v} x={x(v) - (v < 0 ? 3 : 0)} y={b + 17} anchor="middle" size={15} sx={1.25}>
          {String(v)}
        </SText>
      ))}
      <SText x={r - 5} y={b + 17} anchor="middle" size={15} sx={1.2}>
        (µm)
      </SText>
      {c.yLabels.map((v) => (
        <SText key={"yl" + v} x={l - 4} y={y(v) + 5} anchor="end" size={15} sx={1.25}>
          {String(v)}
        </SText>
      ))}

      <g clipPath={`url(#${clip})`} fill="none" stroke="#333" strokeWidth={0.85}>
        {c.base && <path d={line(c.base) || ""} />}
        {c.curves.map((cv, i) => (
          <path key={"cv" + i} d={line(cv) || ""} />
        ))}
        {(c.dashed || []).map((cv, i) => (
          <path key={"ds" + i} d={line(cv) || ""} stroke="#777" strokeDasharray="3 2" />
        ))}
      </g>

      {c.notes.map((n, i) => (
        <g key={"nt" + i}>
          {n.ax !== undefined && (
            <line
              x1={x(n.ax)}
              y1={y(n.ay!)}
              x2={x(n.bx!)}
              y2={y(n.by!)}
              stroke="#222"
              strokeWidth={0.9}
              markerEnd="url(#arrowHead)"
            />
          )}
          {n.t &&
            (n.big ? (
              <text x={x(n.x)} y={y(n.y)} fontFamily={SERIF} fontSize={20} fill={INK}>
                {n.t}
              </text>
            ) : (
              <SText x={x(n.x)} y={y(n.y)}>
                {n.t}
              </SText>
            ))}
        </g>
      ))}

      <Title kind={c.title.kind} px={x(c.title.x)} py={y(c.title.y)} />
      <circle cx={x(c.circle[0])} cy={y(c.circle[1])} r={15} fill="#fff" stroke="#333" strokeWidth={1.1} />
      <text
        x={x(c.circle[0])}
        y={y(c.circle[1]) + 6.5}
        textAnchor="middle"
        fontFamily={SANS}
        fontSize={19}
        fill={INK}
      >
        {c.id}
      </text>
    </g>
  );
}

export default function App() {
  return (
    <svg
      width={659}
      height={1262}
      viewBox="0 0 659 1262"
      style={{ position: "absolute", left: 0, top: 0, background: "#fff" }}
    >
      <defs>
        <marker id="arrowHead" viewBox="0 0 8 6" refX={8} refY={3} markerWidth={7} markerHeight={5} orient="auto" markerUnits="userSpaceOnUse">
          <path d="M0,0 L8,3 L0,6 z" fill="#222" />
        </marker>
      </defs>
      <rect width={659} height={1262} fill="#fff" />
      {PANELS.map((p) => (
        <Panel key={p.id} c={p} />
      ))}
    </svg>
  );
}
